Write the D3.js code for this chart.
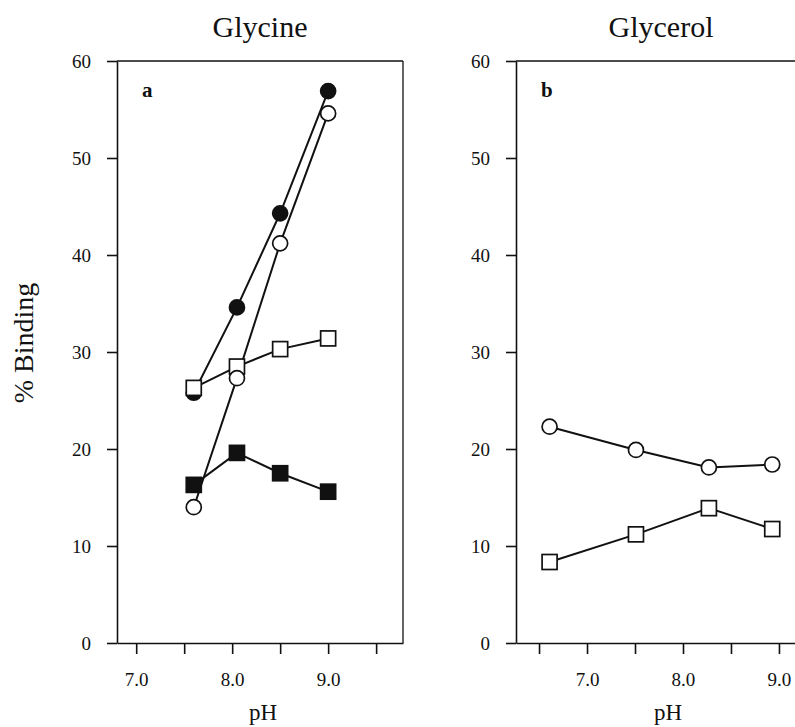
<!DOCTYPE html>
<html>
<head>
<meta charset="utf-8">
<script src="https://cdn.jsdelivr.net/npm/d3@7"></script>
<style>
  body { margin: 0; background: #fff; }
  text { font-family: "Liberation Serif", "Times New Roman", serif; fill: #111; }
</style>
</head>
<body>
<div id="chart"></div>
<script>
// Panel a: glycine
const phA = [7.6, 8.05, 8.5, 9.0];
const glycineFilledCircle = [25.8, 34.6, 44.3, 56.9];
const glycineOpenSquare = [26.3, 28.5, 30.3, 31.4];
const glycineOpenCircle = [14.0, 27.3, 41.2, 54.6];
const glycineFilledSquare = [16.3, 19.6, 17.5, 15.6];

// Panel b: glycerol
const phB = [6.61, 7.51, 8.27, 8.93];
const glycerolOpenCircle = [22.3, 19.9, 18.1, 18.4];
const glycerolOpenSquare = [8.35, 11.2, 13.9, 11.75];

const yTicks = [0, 10, 20, 30, 40, 50, 60];
const xLabelTicks = [7.0, 8.0, 9.0];

const W = 795, H = 727;
const svg = d3.select("#chart").append("svg")
    .attr("width", W).attr("height", H);

const y = d3.scaleLinear().domain([0, 60]).range([643, 61]);

const panels = [
    { title: "Glycine", tag: "a", left: 117, domain: [6.8, 9.78], ticks: d3.range(7.0, 9.51, 0.5), box: true,
      titleX: 260, phX: 263,
      series: [
        { x: phA, v: glycineFilledCircle, shape: "circle", fill: "#111" },
        { x: phA, v: glycineOpenSquare, shape: "square", fill: "#fff" },
        { x: phA, v: glycineOpenCircle, shape: "circle", fill: "#fff" },
        { x: phA, v: glycineFilledSquare, shape: "square", fill: "#111" }
      ] },
    { title: "Glycerol", tag: "b", left: 516, domain: [6.26, 9.24], ticks: d3.range(6.5, 9.01, 0.5), box: false,
      titleX: 661, phX: 668,
      series: [
        { x: phB, v: glycerolOpenCircle, shape: "circle", fill: "#fff" },
        { x: phB, v: glycerolOpenSquare, shape: "square", fill: "#fff" }
      ] }
];

const pw = 286;

panels.forEach(p => {
    const x = d3.scaleLinear().domain(p.domain).range([p.left, p.left + pw]);
    const g = svg.append("g");

    // frame
    g.append("line").attr("x1", p.left).attr("x2", p.left + pw)
        .attr("y1", y(60)).attr("y2", y(60)).attr("stroke", "#111").attr("stroke-width", 1.6);
    if (p.box) {
        g.append("line").attr("x1", p.left + pw).attr("x2", p.left + pw)
            .attr("y1", y(60)).attr("y2", y(0)).attr("stroke", "#111").attr("stroke-width", 1.3);
    }

    const ax = g.append("g").attr("transform", `translate(${p.left},0)`)
        .call(d3.axisLeft(y).tickValues(yTicks).tickSize(10).tickPadding(16).tickSizeOuter(0));
    const bx = g.append("g").attr("transform", `translate(0,${y(0)})`)
        .call(d3.axisBottom(x).tickValues(p.ticks).tickSize(11).tickPadding(19).tickSizeOuter(0)
            .tickFormat(d => xLabelTicks.some(t => Math.abs(t - d) < 1e-6) ? d3.format(".1f")(d) : ""));
    [ax, bx].forEach(a => {
        a.selectAll("path, line").attr("stroke", "#111").attr("stroke-width", 1.6);
        a.selectAll("text").attr("font-size", 19).attr("font-family", "Liberation Serif").attr("fill", "#111");
    });

    // titles
    g.append("text").attr("x", p.titleX).attr("y", 37).attr("text-anchor", "middle")
        .attr("font-size", 30).text(p.title);
    g.append("text").attr("x", p.phX).attr("y", 720).attr("text-anchor", "middle")
        .attr("font-size", 23).text("pH");
    g.append("text").attr("x", p.left + 25).attr("y", 97)
        .attr("font-size", 21).attr("font-weight", "bold").text(p.tag);

    const line = d3.line().x(d => x(d[0])).y(d => y(d[1]));
    p.series.forEach(s => {
        g.append("path").datum(s.x.map((xv, i) => [xv, s.v[i]]))
            .attr("d", line).attr("fill", "none").attr("stroke", "#111").attr("stroke-width", 2);
    });
    p.series.forEach(s => {
        const pts = s.x.map((xv, i) => [xv, s.v[i]]);
        if (s.shape === "circle") {
            g.selectAll(null).data(pts).enter().append("circle")
                .attr("cx", d => x(d[0])).attr("cy", d => y(d[1])).attr("r", 7.5)
                .attr("fill", s.fill).attr("stroke", "#111").attr("stroke-width", 1.7);
        } else {
            g.selectAll(null).data(pts).enter().append("rect")
                .attr("x", d => x(d[0]) - 7.5).attr("y", d => y(d[1]) - 7.5)
                .attr("width", 15).attr("height", 15)
                .attr("fill", s.fill).attr("stroke", "#111").attr("stroke-width", 1.7);
        }
    });
});

svg.append("text").attr("transform", "translate(33,343) rotate(-90)")
    .attr("text-anchor", "middle").attr("font-size", 28).text("% Binding");
</script>
</body>
</html>
